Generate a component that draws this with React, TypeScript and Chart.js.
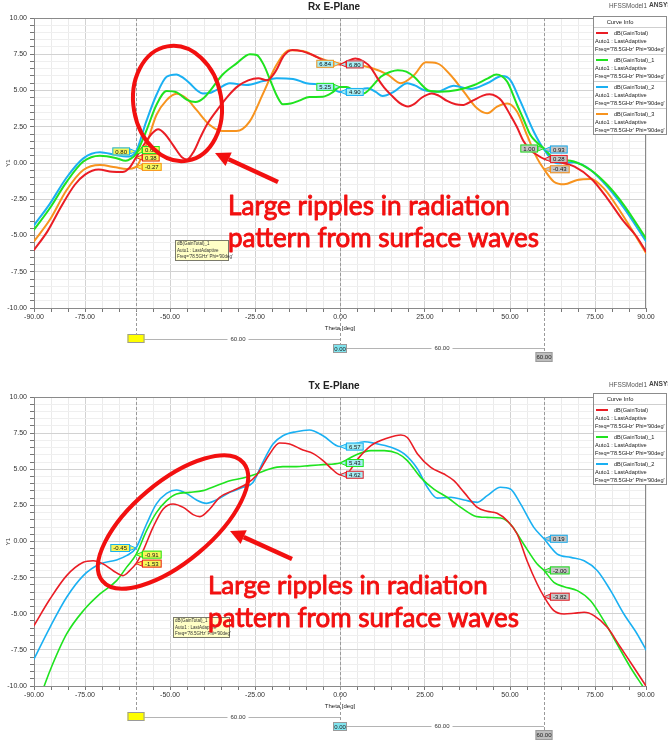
import React, { useEffect, useRef } from "react";
import { Chart, registerables } from "chart.js";

Chart.register(...registerables);

const RED = "#ea1d25";
const GREEN = "#1fe31f";
const BLUE = "#1ab0f2";
const ORANGE = "#f7931e";
const NOTE_RED = "#f21010";
const FONT = "'Liberation Sans', Arial, sans-serif";
const NOTE_FONT = "Lato, 'Open Sans', sans-serif";

// ---- axes ----
const thetaTicks = Array.from({ length: 37 }, (_, i) => -90 + 5 * i);
const thetaLabels = [-90, -75, -50, -25, 0, 25, 50, 75, 90];
const gainTicks = Array.from({ length: 41 }, (_, i) => -10 + 0.5 * i);
const markerThetas = [-60, 0, 60];

// ---- Rx E-Plane (theta deg, gain dB) ----
const rxRed: [number, number][] = [
  [-90, -6.0], [-86, -4.7], [-82, -3.0], [-78, -1.5], [-75, -0.8], [-71, -0.45], [-67, -0.6], [-64, -0.62],
  [-62, -0.35], [-60, 0.38], [-57, 1.5], [-55, 2.1], [-53.5, 2.32], [-51.5, 2.0], [-49, 1.2], [-46.5, 0.4],
  [-45, 0.25], [-43, 0.8], [-41, 1.8], [-39, 2.7], [-36, 3.7], [-33, 4.6], [-30, 5.3], [-27, 5.7], [-24, 5.85],
  [-21.5, 5.7], [-19, 6.3], [-16.5, 7.4], [-14, 7.8], [-11, 7.7], [-8, 7.45], [-5, 7.1], [-2, 6.9], [0, 6.8],
  [2, 7.0], [4.5, 7.2], [7, 7.0], [9, 6.6], [11, 5.85], [13, 5.2], [15, 4.7], [17.5, 4.15], [20, 3.9], [22, 4.1],
  [24, 4.5], [27, 4.8], [29, 4.65], [31.5, 4.28], [34, 4.05], [36, 4.0], [39, 4.3], [42, 4.65], [44, 4.74],
  [46, 4.6], [47.5, 4.3], [50, 3.35], [52, 2.5], [54, 1.5], [56, 0.9], [58, 0.55], [60, 0.28], [64, 0.09],
  [69, -0.25], [74, -1.1], [78.5, -2.4], [83.5, -4.05], [87, -5.0], [90, -6.1],
];
const rxGreen: [number, number][] = [
  [-90, -4.6], [-85.3, -3.1], [-80.4, -1.3], [-75.5, 0.1], [-70.6, 0.5], [-66, 0.35], [-63, 0.15], [-61.5, 0.3],
  [-60, 0.62], [-57, 2.2], [-54, 4.0], [-51, 4.97], [-48, 4.87], [-45, 4.35], [-42.5, 4.2], [-40, 4.5], [-38, 5.05],
  [-34.5, 6.1], [-30.5, 6.85], [-26.5, 7.5], [-24.5, 7.45], [-22.5, 6.8], [-20.5, 5.7], [-18.5, 4.6], [-16.8, 4.05],
  [-14.5, 4.1], [-12, 4.3], [-9, 4.55], [-5, 4.57], [-2, 4.9], [0, 5.25], [2, 5.25], [4, 5.0], [7, 4.8], [9.5, 5.3],
  [12, 5.95], [15, 6.3], [17, 6.4], [19.5, 6.3], [22, 5.9], [24, 5.4], [26, 5.0], [29.5, 4.92], [34.5, 5.03],
  [39.5, 5.38], [43.5, 5.84], [46, 6.1], [47.5, 6.0], [49.2, 5.6], [52.1, 4.0], [54, 3.0], [56, 1.93], [58, 1.4],
  [60, 1.0], [62, 0.5], [64, 0.28], [68.8, 0.1], [73.7, -0.48], [78.6, -1.5], [83.5, -2.9], [90, -5.2],
];
const rxBlue: [number, number][] = [
  [-90, -4.3], [-85.3, -2.8], [-80.4, -1.0], [-75.5, 0.32], [-70.6, 0.74], [-66, 0.55], [-62.8, 0.44], [-60, 0.8],
  [-57, 2.85], [-54, 4.69], [-51, 5.95], [-48.1, 6.11], [-46, 5.85], [-44.2, 5.5], [-42, 5.0], [-40.3, 4.8],
  [-38, 4.85], [-36.4, 5.03], [-32.4, 5.5], [-27.5, 5.38], [-22.6, 5.65], [-18.7, 5.84], [-13.8, 5.8], [-9.9, 5.5],
  [-5, 5.38], [-2, 5.1], [0, 4.9], [4.2, 4.97], [8.2, 5.15], [10.5, 4.9], [12.5, 4.62], [15.9, 4.92], [19.8, 5.5],
  [22, 5.35], [24.7, 5.03], [28.6, 4.92], [33.5, 5.33], [38.4, 5.1], [43.3, 5.5], [47.7, 6.0], [50.1, 5.72],
  [53.1, 4.23], [57, 2.16], [60, 0.93], [63.9, -0.02], [68.8, 0.05], [73.7, -0.48], [78.6, -1.63], [83.5, -3.1],
  [90, -5.4],
];
const rxOrange: [number, number][] = [
  [-90, -5.4], [-85.3, -3.9], [-80.4, -1.86], [-75.5, -0.48], [-70.6, -0.14], [-66, -0.3], [-62.8, -0.41],
  [-60, -0.27], [-57, 1.24], [-54, 3.31], [-51, 4.34], [-48.1, 4.78], [-45.2, 4.46], [-42.2, 3.66], [-38.3, 2.62],
  [-34.4, 2.2], [-30.5, 2.2], [-26.6, 2.85], [-22.6, 4.8], [-18.7, 6.76], [-14.8, 7.77], [-10.9, 7.72], [-7, 7.33],
  [-3.1, 7.0], [0, 6.84], [5.2, 6.76], [9.1, 6.57], [14, 6.1], [17.9, 5.5], [21.8, 6.07], [25.2, 6.94], [28.6, 6.87],
  [32.5, 6.07], [36.4, 4.92], [40.3, 3.77], [43.3, 3.43], [46.2, 3.89], [49.2, 4.11], [52.1, 3.54], [55, 1.93],
  [58, 0.32], [60, -0.43], [62.9, -1.29], [65.9, -1.47], [69.8, -1.17], [73.7, -1.1], [77.6, -1.75], [82.5, -3.36],
  [90, -6.2],
];
// marker read-outs at -60, 0, 60 deg
const rxMarkRed = [0.38, 6.8, 0.28];
const rxMarkGreen = [0.62, 5.25, 1.0];
const rxMarkBlue = [0.8, 4.9, 0.93];
const rxMarkOrange = [-0.27, 6.84, -0.43];

// ---- Tx E-Plane ----
const txRed: [number, number][] = [
  [-90, -5.82], [-85.3, -3.98], [-80.4, -2.36], [-75.5, -1.44], [-72.6, -1.33], [-69.6, -1.56], [-66.7, -2.02],
  [-63.8, -2.36], [-61.8, -2.0], [-60, -1.53], [-57.9, -0.63], [-55, 0.98], [-52, 2.25], [-49.1, 2.6], [-46.1, 2.36],
  [-43.2, 1.86], [-41.2, 1.72], [-38.3, 2.25], [-35.4, 3.06], [-31.5, 3.52], [-27.5, 3.98], [-24.6, 4.56],
  [-20.7, 6.06], [-17.8, 6.82], [-14.8, 6.75], [-10.9, 6.33], [-8, 6.1], [-5, 5.6], [-2.1, 4.95], [0, 4.62],
  [2.2, 4.74], [5.2, 5.7], [9.1, 6.63], [14, 7.16], [17.9, 7.37], [19.8, 7.2], [22.8, 6.06], [26.7, 5.13],
  [30.6, 4.67], [33.5, 4.21], [36.5, 3.4], [40.4, 2.36], [43.3, 2.09], [46.2, 1.95], [49.2, 1.44], [52.1, 0.52],
  [55, -1.33], [58, -2.94], [60, -3.82], [62.9, -4.79], [65.9, -5.02], [68.8, -4.97], [71.8, -4.9], [74.7, -5.13],
  [78.6, -5.94], [82.5, -7.32], [86.4, -8.7], [90, -10.0],
];
const txGreen: [number, number][] = [
  [-87, -10.0], [-85.3, -8.94], [-80.4, -6.4], [-75.5, -4.79], [-70.6, -3.63], [-65.7, -2.71], [-62.8, -1.79],
  [-60, -0.91], [-56.9, 0.75], [-54, 2.0], [-51, 2.83], [-48.1, 3.29], [-44.2, 3.4], [-40.3, 3.52], [-36.4, 3.86],
  [-32.4, 4.21], [-28.5, 4.39], [-24.6, 4.67], [-20.7, 5.02], [-16.8, 5.18], [-12.9, 5.18], [-9, 5.25], [-5, 5.32],
  [0, 5.43], [4.2, 5.94], [9.1, 6.29], [13, 6.29], [16.9, 6.1], [19.8, 5.6], [23.7, 4.44], [27.6, 3.63], [31.5, 3.06],
  [35.5, 2.36], [39.4, 1.79], [43.3, 1.67], [47.2, 1.63], [50.1, 1.21], [54, -0.17], [58, -1.56], [60, -2.0],
  [62.9, -2.83], [65.9, -3.13], [69.8, -3.4], [73.7, -4.1], [77.6, -5.48], [81.5, -7.1], [85.4, -8.7], [89, -10.0],
];
const txBlue: [number, number][] = [
  [-90, -8.13], [-85.3, -5.94], [-80.4, -3.86], [-75.5, -2.36], [-70.6, -1.56], [-65.7, -1.28], [-62.8, -0.98],
  [-60, -0.45], [-56.9, 1.21], [-54, 2.6], [-51, 3.33], [-48.1, 3.56], [-45.2, 3.33], [-42.2, 2.87], [-39.3, 2.64],
  [-36.4, 2.87], [-32.4, 3.4], [-28.5, 3.75], [-25.6, 4.09], [-22.7, 5.48], [-19.7, 6.75], [-16.8, 7.32],
  [-12.9, 7.6], [-9, 7.72], [-5, 7.32], [0, 6.57], [3.2, 6.7], [7.2, 6.9], [10.1, 6.8], [15, 6.52], [18.9, 6.06],
  [22.8, 5.02], [25.7, 3.75], [28.6, 3.0], [32.6, 3.06], [36.5, 2.87], [40.4, 2.71], [43.3, 3.17], [47.2, 3.75],
  [50.1, 3.63], [53.1, 2.6], [57, 0.98], [60, 0.19], [63.9, -0.87], [67.9, -1.1], [71.8, -1.33], [75.7, -2.02],
  [79.6, -3.4], [83.5, -5.02], [87.4, -6.4], [90, -7.5],
];
const txMarkRed = [-1.53, 4.62, -3.82];
const txMarkGreen = [-0.91, 5.43, -2.0];
const txMarkBlue = [-0.45, 6.57, 0.19];

const legendLines = ["Auto1 : LastAdaptive", "Freq='78.5GHz' Phi='90deg'"];
const noteLines = ["Large ripples in radiation", "pattern from surface waves"];

const rxSpec = {
  title: "Rx E-Plane",
  areaBottom: 308,
  lineWidth: 2,
  series: [
    { name: "dB(GainTotal)", color: RED, points: rxRed, marks: rxMarkRed, sides: ["R", "R", "R"], dys: [0, 0, 0] },
    { name: "dB(GainTotal)_1", color: GREEN, points: rxGreen, marks: rxMarkGreen, sides: ["R", "L", "L"], dys: [-4, 0, 0] },
    { name: "dB(GainTotal)_2", color: BLUE, points: rxBlue, marks: rxMarkBlue, sides: ["L", "R", "R"], dys: [0, 0, 0] },
    { name: "dB(GainTotal)_3", color: ORANGE, points: rxOrange, marks: rxMarkOrange, sides: ["R", "L", "R"], dys: [0, 0, 0] },
  ],
  legendTop: 16,
  tip: { x: 175, y: 240, w: 54, h: 21 },
  ellipse: { cx: 177.5, cy: 103.5, rx: 44, ry: 58, rot: -10 },
  arrow: { x1: 278, y1: 182, x2: 215, y2: 153 },
  note: { x: 228, y1: 215, y2: 247, w1: 283, w2: 312 },
};

const txSpec = {
  title: "Tx E-Plane",
  areaBottom: 307,
  lineWidth: 1.6,
  series: [
    { name: "dB(GainTotal)", color: RED, points: txRed, marks: txMarkRed, sides: ["R", "R", "R"], dys: [0, 0, 0] },
    { name: "dB(GainTotal)_1", color: GREEN, points: txGreen, marks: txMarkGreen, sides: ["R", "R", "R"], dys: [0, 0, 0] },
    { name: "dB(GainTotal)_2", color: BLUE, points: txBlue, marks: txMarkBlue, sides: ["L", "R", "R"], dys: [0, 0, 0] },
  ],
  legendTop: 14,
  tip: { x: 173, y: 238, w: 57, h: 21 },
  ellipse: { cx: 173, cy: 143, rx: 92, ry: 40, rot: -40 },
  arrow: { x1: 292, y1: 180, x2: 230, y2: 152 },
  note: { x: 208, y1: 215, y2: 248, w1: 281, w2: 312 },
};

const markFills = ["#f6f65a", "#a6eef4", "#c4c4c4"];

function isMult(v: number, step: number) {
  const r = v / step;
  return Math.abs(r - Math.round(r)) < 1e-6;
}

function makeDecor(spec: any) {
  return {
    id: "hfssDecor",
    beforeDatasetsDraw(chart: any) {
      const { ctx, chartArea: a, scales } = chart;
      const xs = scales.x;
      ctx.save();
      ctx.strokeStyle = "#9a9a9a";
      ctx.lineWidth = 1;
      ctx.setLineDash([3, 2]);
      const ends = [26, 36, 44];
      markerThetas.forEach((t, i) => {
        const px = Math.round(xs.getPixelForValue(t)) + 0.5;
        ctx.beginPath();
        ctx.moveTo(px, a.top);
        ctx.lineTo(px, a.bottom + ends[i]);
        ctx.stroke();
      });
      ctx.setLineDash([]);
      ctx.strokeStyle = "#8a8a8a";
      ctx.strokeRect(a.left + 0.5, a.top + 0.5, a.right - a.left - 1, a.bottom - a.top);
      ctx.restore();
    },
    afterDraw(chart: any) {
      const { ctx, chartArea: a, scales } = chart;
      const xs = scales.x;
      const ys = scales.y;
      ctx.save();

      // title and header texts
      ctx.textBaseline = "middle";
      ctx.textAlign = "center";
      ctx.fillStyle = "#222";
      ctx.font = `bold 10px ${FONT}`;
      ctx.fillText(spec.title, 334, 7);
      ctx.textAlign = "left";
      ctx.font = `6.4px ${FONT}`;
      ctx.fillStyle = "#555";
      ctx.fillText("HFSSModel1", 609, 6);
      ctx.font = `bold 6.6px ${FONT}`;
      ctx.fillStyle = "#444";
      ctx.fillText("ANSYS", 649, 5);

      // axis titles
      ctx.save();
      ctx.translate(8, (a.top + a.bottom) / 2);
      ctx.rotate(-Math.PI / 2);
      ctx.font = `6px ${FONT}`;
      ctx.fillStyle = "#333";
      ctx.textAlign = "center";
      ctx.fillText("Y1", 0, 0);
      ctx.restore();
      ctx.font = `6px ${FONT}`;
      ctx.fillStyle = "#222";
      ctx.textAlign = "center";
      ctx.fillText("Theta [deg]", xs.getPixelForValue(0), a.bottom + 20);

      // delta markers
      const p = markerThetas.map((t) => xs.getPixelForValue(t));
      const b = a.bottom;
      const hline = (x1: number, x2: number, y: number) => {
        ctx.strokeStyle = "#b4b4b4";
        ctx.lineWidth = 1;
        ctx.beginPath();
        ctx.moveTo(x1, Math.round(y) + 0.5);
        ctx.lineTo(x2, Math.round(y) + 0.5);
        ctx.stroke();
      };
      const bgText = (t: string, x: number, y: number) => {
        ctx.font = `6px ${FONT}`;
        const w = ctx.measureText(t).width + 6;
        ctx.fillStyle = "#fff";
        ctx.fillRect(x - w / 2, y - 4, w, 8);
        ctx.fillStyle = "#333";
        ctx.textAlign = "center";
        ctx.fillText(t, x, y + 0.5);
      };
      const box = (x: number, y: number, w: number, h: number, fill: string, t: string) => {
        ctx.fillStyle = fill;
        ctx.fillRect(x, y, w, h);
        ctx.strokeStyle = "#9a9a9a";
        ctx.lineWidth = 1;
        ctx.strokeRect(x + 0.5, y + 0.5, w - 1, h - 1);
        if (t) {
          ctx.fillStyle = "#222";
          ctx.font = `6px ${FONT}`;
          ctx.textAlign = "center";
          ctx.fillText(t, x + w / 2, y + h / 2 + 0.5);
        }
      };
      hline(p[0] + 8, p[1], b + 31);
      hline(p[1] + 7, p[2], b + 40);
      bgText((markerThetas[1] - markerThetas[0]).toFixed(2), (p[0] + p[1]) / 2, b + 31);
      bgText((markerThetas[2] - markerThetas[1]).toFixed(2), (p[1] + p[2]) / 2, b + 40);
      box(p[0] - 8.5, b + 26, 17, 9, "#ffff00", "");
      box(p[1] - 7, b + 36, 14, 9, "#80e4ee", markerThetas[1].toFixed(2));
      box(p[2] - 8.5, b + 44, 17, 10, "#bdbdbd", markerThetas[2].toFixed(2));

      // marker read-out labels
      ctx.font = `6px ${FONT}`;
      spec.series.forEach((s: any) => {
        s.marks.forEach((v: number, i: number) => {
          const px = xs.getPixelForValue(markerThetas[i]);
          const py = ys.getPixelForValue(v);
          const cy = py + s.dys[i];
          const txt = v.toFixed(2);
          const w = ctx.measureText(txt).width + 6;
          const h = 8;
          const right = s.sides[i] === "R";
          const bx = right ? px + 6 : px - 6 - w;
          const edge = right ? bx : bx + w;
          ctx.fillStyle = markFills[i];
          ctx.strokeStyle = s.color;
          ctx.lineWidth = 1;
          ctx.beginPath();
          ctx.moveTo(px, py);
          ctx.lineTo(edge, cy - 2.5);
          ctx.lineTo(edge, cy + 2.5);
          ctx.closePath();
          ctx.fill();
          ctx.stroke();
          ctx.fillRect(bx, cy - h / 2, w, h);
          ctx.strokeRect(bx + 0.5, cy - h / 2 + 0.5, w - 1, h - 1);
          ctx.fillStyle = "#111";
          ctx.textAlign = "center";
          ctx.fillText(txt, bx + w / 2, cy + 0.5);
        });
      });

      // Curve Info legend
      const lx = 593;
      const ly = spec.legendTop;
      const lw = 74;
      const head = 11;
      const eh = 27;
      const lh = head + eh * spec.series.length;
      ctx.fillStyle = "#fff";
      ctx.fillRect(lx, ly, lw, lh);
      ctx.strokeStyle = "#8c8c8c";
      ctx.strokeRect(lx + 0.5, ly + 0.5, lw - 1, lh - 1);
      ctx.font = `5.8px ${FONT}`;
      ctx.fillStyle = "#222";
      ctx.textAlign = "center";
      ctx.fillText("Curve Info", 620, ly + 6);
      spec.series.forEach((s: any, i: number) => {
        const et = ly + head + i * eh;
        ctx.strokeStyle = "#cfcfcf";
        ctx.lineWidth = 1;
        ctx.beginPath();
        ctx.moveTo(lx + 1, et + 0.5);
        ctx.lineTo(lx + lw - 1, et + 0.5);
        ctx.stroke();
        ctx.strokeStyle = s.color;
        ctx.lineWidth = 2;
        ctx.beginPath();
        ctx.moveTo(lx + 3, et + 6);
        ctx.lineTo(lx + 15, et + 6);
        ctx.stroke();
        ctx.fillStyle = "#222";
        ctx.font = `5.6px ${FONT}`;
        ctx.textAlign = "left";
        ctx.fillText(s.name, lx + 21, et + 6);
        ctx.fillText(legendLines[0], lx + 2, et + 14);
        ctx.fillText(legendLines[1], lx + 2, et + 22);
      });

      // small curve tooltip
      const tp = spec.tip;
      ctx.fillStyle = "#ffffc6";
      ctx.fillRect(tp.x, tp.y, tp.w, tp.h);
      ctx.strokeStyle = "#7a7a6a";
      ctx.lineWidth = 1;
      ctx.strokeRect(tp.x + 0.5, tp.y + 0.5, tp.w - 1, tp.h - 1);
      ctx.fillStyle = "#333";
      ctx.font = `4.5px ${FONT}`;
      ctx.textAlign = "left";
      ctx.fillText(spec.series[1].name, tp.x + 2, tp.y + 4);
      ctx.fillText(legendLines[0], tp.x + 2, tp.y + 10.5);
      ctx.fillText(legendLines[1], tp.x + 2, tp.y + 17);

      // annotations: ellipse, arrow, note text
      const e = spec.ellipse;
      ctx.strokeStyle = NOTE_RED;
      ctx.lineWidth = 4;
      ctx.beginPath();
      ctx.ellipse(e.cx, e.cy, e.rx, e.ry, (e.rot * Math.PI) / 180, 0, Math.PI * 2);
      ctx.stroke();

      const ar = spec.arrow;
      const ang = Math.atan2(ar.y2 - ar.y1, ar.x2 - ar.x1);
      const hl = 15;
      const hw = 7.5;
      const bxp = ar.x2 - hl * Math.cos(ang);
      const byp = ar.y2 - hl * Math.sin(ang);
      ctx.lineWidth = 4.5;
      ctx.lineCap = "butt";
      ctx.beginPath();
      ctx.moveTo(ar.x1, ar.y1);
      ctx.lineTo(bxp, byp);
      ctx.stroke();
      ctx.fillStyle = NOTE_RED;
      ctx.beginPath();
      ctx.moveTo(ar.x2, ar.y2);
      ctx.lineTo(bxp + hw * Math.sin(ang), byp - hw * Math.cos(ang));
      ctx.lineTo(bxp - hw * Math.sin(ang), byp + hw * Math.cos(ang));
      ctx.closePath();
      ctx.fill();

      const n = spec.note;
      ctx.textAlign = "left";
      ctx.textBaseline = "alphabetic";
      ctx.fillStyle = NOTE_RED;
      ctx.strokeStyle = NOTE_RED;
      ctx.lineJoin = "round";
      [
        [noteLines[0], n.y1, n.w1],
        [noteLines[1], n.y2, n.w2],
      ].forEach(([t, y, w]: any) => {
        ctx.font = `100px ${NOTE_FONT}`;
        const mw = ctx.measureText(t).width;
        const size = (100 * (w - 1)) / mw;
        ctx.font = `${size}px ${NOTE_FONT}`;
        ctx.fillText(t, n.x, y);
        ctx.lineWidth = 0.9;
        ctx.strokeText(t, n.x, y);
      });

      ctx.restore();
    },
  };
}

function PatternChart({ spec, top, height }: { spec: any; top: number; height: number }) {
  const ref = useRef<HTMLCanvasElement>(null);
  useEffect(() => {
    const canvas = ref.current;
    if (!canvas) return;
    const tickFont = { family: FONT, size: 7 };
    const chart = new Chart(canvas, {
      type: "line",
      data: {
        datasets: spec.series.map((s: any) => ({
          label: s.name,
          data: s.points.map(([x, y]: [number, number]) => ({ x, y })),
          borderColor: s.color,
          backgroundColor: s.color,
          borderWidth: spec.lineWidth,
          pointRadius: 0,
          cubicInterpolationMode: "monotone",
          fill: false,
          borderJoinStyle: "round",
          borderCapStyle: "round",
        })),
      },
      options: {
        animation: false,
        responsive: false,
        maintainAspectRatio: false,
        layout: { padding: { top: 18, right: 668 - 646, bottom: height - spec.areaBottom - 20, left: 0 } },
        plugins: { legend: { display: false }, tooltip: { enabled: false }, title: { display: false } },
        scales: {
          x: {
            type: "linear",
            min: -90,
            max: 90,
            afterBuildTicks: (s: any) => {
              s.ticks = thetaTicks.map((v) => ({ value: v }));
            },
            afterFit: (s: any) => {
              s.height = 20;
            },
            ticks: {
              autoSkip: false,
              maxRotation: 0,
              minRotation: 0,
              padding: 1,
              font: tickFont,
              color: "#333",
              callback: (v: any) => (thetaLabels.includes(Math.round(Number(v))) ? Number(v).toFixed(2) : ""),
            },
            grid: {
              color: (c: any) => (c.tick && isMult(c.tick.value, 25) ? "#d2d2d2" : "#ebebeb"),
              lineWidth: 1,
              drawTicks: true,
              tickLength: 4,
              tickColor: "#777",
            },
            border: { color: "#7a7a7a" },
          },
          y: {
            type: "linear",
            min: -10,
            max: 10,
            afterBuildTicks: (s: any) => {
              s.ticks = gainTicks.map((v) => ({ value: v }));
            },
            afterFit: (s: any) => {
              s.width = 34;
            },
            ticks: {
              autoSkip: false,
              padding: 3,
              font: tickFont,
              color: "#333",
              callback: (v: any) => (isMult(Number(v), 2.5) ? Number(v).toFixed(2) : ""),
            },
            grid: {
              color: (c: any) => (c.tick && isMult(c.tick.value, 2.5) ? "#d2d2d2" : "#efefef"),
              lineWidth: 1,
              drawTicks: true,
              tickLength: 4,
              tickColor: "#777",
            },
            border: { color: "#7a7a7a" },
          },
        },
      } as any,
      plugins: [makeDecor(spec)],
    });
    let alive = true;
    const fonts = (document as any).fonts;
    if (fonts && fonts.load) {
      Promise.all([fonts.load(`24px Lato`), fonts.load(`7px 'Liberation Sans'`)])
        .then(() => {
          if (alive) chart.draw();
        })
        .catch(() => {});
    }
    return () => {
      alive = false;
      chart.destroy();
    };
  }, [spec, height]);
  return (
    <canvas
      ref={ref}
      width={668}
      height={height}
      style={{ position: "absolute", left: 0, top, width: 668, height, display: "block" }}
    />
  );
}

export default function App() {
  useEffect(() => {
    document.body.style.margin = "0";
  }, []);
  return (
    <div style={{ position: "relative", width: 668, height: 742, background: "#fff", overflow: "hidden" }}>
      <PatternChart spec={rxSpec} top={0} height={379} />
      <PatternChart spec={txSpec} top={379} height={363} />
    </div>
  );
}
